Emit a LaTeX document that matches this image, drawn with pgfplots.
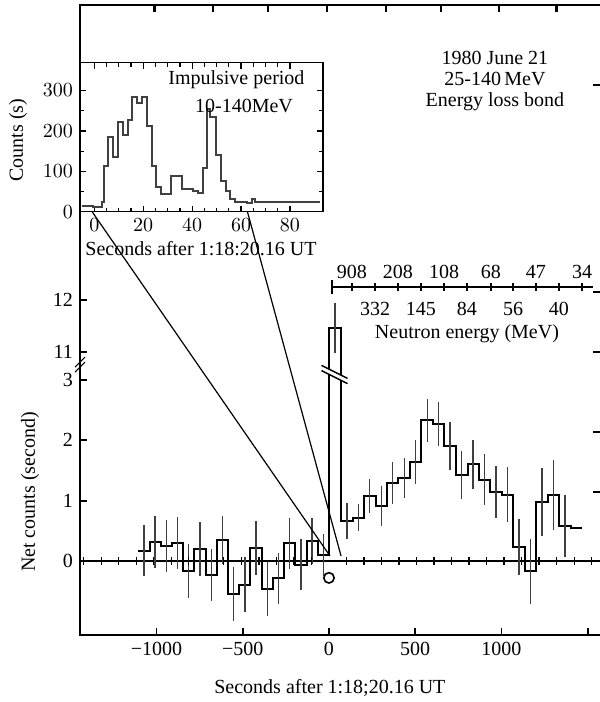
\documentclass[border=0pt]{standalone}
\usepackage{fontspec}
\setmainfont{Liberation Serif}
\usepackage{pgfplots}
\pgfplotsset{compat=1.18}

% scale: 1 px of the reference = 0.5pt
\begin{document}
\begin{tikzpicture}
\begin{axis}[
    scale only axis, width=262.5pt, height=315pt,
    xmin=-1443, xmax=1600, ymin=-1.227, ymax=17.67,
    % broken y axis: values above 10 are squeezed onto the upper part
    y coord trafo/.code={\pgfmathparse{(#1>10)*(3.466+0.862*(#1-11))+(#1<10)*#1}},
    y coord inv trafo/.code={\pgfmathparse{(#1>3.2)*(11+(#1-3.466)/0.862)+(#1<3.2)*#1}},
    xtick={-1000,-500,0,500,1000,1500},
    xticklabels={−1000,−500,0,500,1000,},
    ytick={0,1,2,3,11,12}, yticklabels={0,1,2,3,11,12},
    xtick pos=bottom, ytick pos=left,
    tick align=inside, major tick length=3.5pt,
    axis line style={line width=0.9pt},
    every tick/.style={black, line width=0.9pt},
    xlabel={Seconds after 1:18;20.16 UT},
    ylabel={Net counts (second)},
    xlabel style={at={(rel axis cs:0.476,0)}, anchor=center, yshift=-26.5pt},
    ylabel style={at={(rel axis cs:-0.0952,0.227)}, anchor=center},
    clip=false,
]
% zero line with its small marks
\addplot[black, line width=0.9pt] coordinates {(-1443,0) (1600,0)};
\addplot[only marks, mark=|, mark size=2pt, mark options={line width=0.6pt}] coordinates {
(-1421,0) (-1319,0) (-1218,0) (-1116,0) (-1015,0) (-913,0) (-812,0) (-710,0)
(-609,0) (-507,0) (-406,0) (-304,0) (-203,0) (-101,0) (102,0) (203,0) (305,0)
(406,0) (508,0) (609,0) (711,0) (812,0) (914,0) (1015,0) (1117,0) (1218,0)
(1320,0) (1421,0) (1523,0)};

% inward ticks of the top spine, drawn as marks
\addplot[only marks, mark=|, mark size=1.75pt, mark options={line width=0.9pt, yshift=-1.75pt}]
    coordinates {(-1012,17.67) (-674,17.67) (-355,17.67) (-12,17.67) (331,17.67)
                 (651,17.67) (988,17.67) (1320,17.67)};
% inward ticks of the (cut-off) right spine
\addplot[only marks, mark=-, mark size=3pt, mark options={line width=0.9pt, xshift=-3pt}]
    coordinates {(1600,16.13) (1600,12.15) (1600,11.0) (1600,2.14) (1600,1.14)};

% histogram of net counts
\addplot[const plot, black, line width=1pt] coordinates {
(-1105,0.17) (-1040,0.31) (-975,0.25) (-910,0.30) (-845,-0.17) (-780,0.20)
(-715,-0.23) (-650,0.35) (-585,-0.55) (-520,-0.39) (-455,0.21) (-390,-0.47)
(-325,-0.29) (-260,0.29) (-195,-0.06) (-130,0.33) (-65,0.10)
(0,11.46)
(70,0.66) (137,0.72) (203,1.08) (270,0.91) (336,1.29) (403,1.38) (470,1.64)
(536,2.33) (603,2.27) (669,1.91) (736,1.42) (803,1.60) (869,1.35) (936,1.15)
(1002,1.10) (1069,0.23) (1136,-0.17) (1202,0.98) (1269,1.10) (1335,0.58)
(1402,0.55) (1469,0.55)};

% error bars
\addplot[draw=none, no markers,
    error bars/.cd, y dir=both, y explicit, error mark=none,
    error bar style={draw=black!75, solid, line width=0.7pt}] coordinates {
(-1072.5,0.17) +- (0,0.42) (-1007.5,0.31) +- (0,0.43) (-942.5,0.25) +- (0,0.43)
(-877.5,0.30) +- (0,0.43) (-812.5,-0.17) +- (0,0.45) (-747.5,0.20) +- (0,0.45)
(-682.5,-0.23) +- (0,0.43) (-617.5,0.35) +- (0,0.40) (-552.5,-0.55) +- (0,0.45)
(-487.5,-0.39) +- (0,0.45) (-422.5,0.21) +- (0,0.45) (-357.5,-0.47) +- (0,0.45)
(-292.5,-0.29) +- (0,0.43) (-227.5,0.29) +- (0,0.42) (-162.5,-0.06) +- (0,0.42)
(-97.5,0.33) +- (0,0.38) (-32.5,0.10) +- (0,0.35)
(35,11.46) +- (0,0.42)
(103.5,0.66) +- (0,0.30) (170,0.72) +- (0,0.22) (236.5,1.08) +- (0,0.28)
(303,0.91) +- (0,0.33) (369.5,1.29) +- (0,0.35) (436.5,1.38) +- (0,0.33)
(503,1.64) +- (0,0.36) (569.5,2.33) +- (0,0.36) (636,2.27) +- (0,0.36)
(702.5,1.91) +- (0,0.40) (769.5,1.42) +- (0,0.40) (836,1.60) +- (0,0.40)
(902.5,1.35) +- (0,0.42) (969,1.15) +- (0,0.43) (1035.5,1.10) +- (0,0.45)
(1102.5,0.23) +- (0,0.46) (1169,-0.17) +- (0,0.54) (1235.5,0.98) +- (0,0.56)
(1302,1.10) +- (0,0.58) (1368.5,0.58) +- (0,0.52)};

% open circle below the onset
\addplot[only marks, mark=o, mark size=2.6pt, mark options={line width=0.8pt}]
    coordinates {(0,-0.28)};

% break marks on the y axis and on the tall bar
\draw[line width=0.6pt] ([shift={(-2.5pt,-4pt)}]rel axis cs:0,0.43) -- ([shift={(2.5pt,1pt)}]rel axis cs:0,0.43);
\draw[line width=0.6pt] ([shift={(-2.5pt,-1.5pt)}]rel axis cs:0,0.43) -- ([shift={(2.5pt,3.5pt)}]rel axis cs:0,0.43);
\coordinate (bk) at ({axis cs:32,0}|-{rel axis cs:0,0.4127});
\fill[white] ([shift={(-6.5pt,4.8pt)}]bk) -- ([shift={(6.5pt,-1.7pt)}]bk)
   -- ([shift={(6.5pt,-4.3pt)}]bk) -- ([shift={(-6.5pt,2.2pt)}]bk) -- cycle;
\draw[line width=0.7pt] ([shift={(-6.5pt,4.8pt)}]bk) -- ([shift={(6.5pt,-1.7pt)}]bk);
\draw[line width=0.7pt] ([shift={(-6.5pt,2.2pt)}]bk) -- ([shift={(6.5pt,-4.3pt)}]bk);

% neutron energy scale
\coordinate (e0) at ({axis cs:17,0}|-{rel axis cs:0,0.5524});
\draw[line width=0.8pt] (e0) -- ({axis cs:1530,0}|-{rel axis cs:0,0.5524});
\draw[line width=0.8pt] ([yshift=-3.5pt]e0) -- ([yshift=3.5pt]e0);
\pgfplotsinvokeforeach{133,267,400,533,667,800,939,1067,1200,1333,1467}{
  \coordinate (et) at ({axis cs:#1,0}|-{rel axis cs:0,0.5524});
  \draw[line width=0.8pt] ([yshift=-2pt]et) -- ([yshift=2pt]et);}
\node at ({axis cs:133,0}|-{rel axis cs:0,0.576}) {908};
\node at ({axis cs:400,0}|-{rel axis cs:0,0.576}) {208};
\node at ({axis cs:667,0}|-{rel axis cs:0,0.576}) {108};
\node at ({axis cs:939,0}|-{rel axis cs:0,0.576}) {68};
\node at ({axis cs:1200,0}|-{rel axis cs:0,0.576}) {47};
\node at ({axis cs:1467,0}|-{rel axis cs:0,0.576}) {34};
\node at ({axis cs:267,0}|-{rel axis cs:0,0.5175}) {332};
\node at ({axis cs:533,0}|-{rel axis cs:0,0.5175}) {145};
\node at ({axis cs:800,0}|-{rel axis cs:0,0.5175}) {84};
\node at ({axis cs:1067,0}|-{rel axis cs:0,0.5175}) {56};
\node at ({axis cs:1333,0}|-{rel axis cs:0,0.5175}) {40};
\node at ({axis cs:800,0}|-{rel axis cs:0,0.479}) {Neutron energy (MeV)};

\node[align=center, font=\fontsize{10}{10.5}\selectfont]
  at ({axis cs:962,0}|-{rel axis cs:0,0.879}) {1980 June 21\\25-140\,MeV\\Energy loss bond};

\coordinate (m0) at (axis cs:6,0.083);
\coordinate (m1) at (axis cs:70,0.083);
\end{axis}

% inset: impulsive period
\begin{axis}[
    at={(0,211.65pt)}, anchor=south west,
    scale only axis, width=121.5pt, height=74.5pt,
    xmin=-5.85, xmax=93.5, ymin=0, ymax=369,
    xtick={0,20,40,60,80}, minor x tick num=3,
    ytick={0,100,200,300}, minor y tick num=1,
    tick align=inside, major tick length=3pt, minor tick length=2pt,
    axis line style={line width=0.8pt},
    every tick/.style={black, line width=0.6pt},
    xlabel={Seconds after 1:18:20.16 UT}, ylabel={Counts (s)},
    xlabel style={at={(rel axis cs:0.498,0)}, anchor=center, yshift=-18.6pt},
    ylabel style={at={(rel axis cs:-0.255,0.481)}, anchor=center},
    clip=false,
]
\addplot[const plot, black!75, line width=1pt] coordinates {
(-5.2,14) (-0.4,12) (3.0,25) (4.1,113) (5.7,186) (7.8,136) (9.8,221) (11.9,190)
(13.9,227) (15.5,283) (17.6,270) (19.3,283) (21.4,211) (23.4,112) (25.2,62)
(27.1,45) (31.2,88) (35.7,55) (40.2,52) (42.3,47) (44.5,107) (45.9,254)
(47.5,234) (49.7,140) (51.6,76) (53.8,52) (55.4,31) (57.5,25) (62.3,22)
(64.3,31) (65.7,23) (92.2,23)};
\node at (axis cs:58.1,328) {Impulsive period};
\node at (axis cs:61.2,262) {10-140MeV};
\coordinate (i0) at (axis cs:-0.9,0);
\coordinate (i1) at (axis cs:62.6,0);
\end{axis}

\draw[line width=0.6pt] (i0) -- (m0);
\draw[line width=0.6pt] (i1) -- (m1);

% inward ticks of the top and right spines (main axis box: 0..262.5pt x 0..315pt)
\foreach \x in {37.5,66.5,94,123.5,153,180.5,209.5,238}
  \draw[line width=0.9pt] (\x pt,315pt) -- (\x pt,311.5pt);
\foreach \y in {275,171.5,141.5,101.5,71.5}
  \draw[line width=0.9pt] (256.5pt,\y pt) -- (262.5pt,\y pt);

\pgfresetboundingbox
\path (-40pt,-33.5pt) rectangle (260pt,317.5pt);
\end{tikzpicture}
\end{document}
